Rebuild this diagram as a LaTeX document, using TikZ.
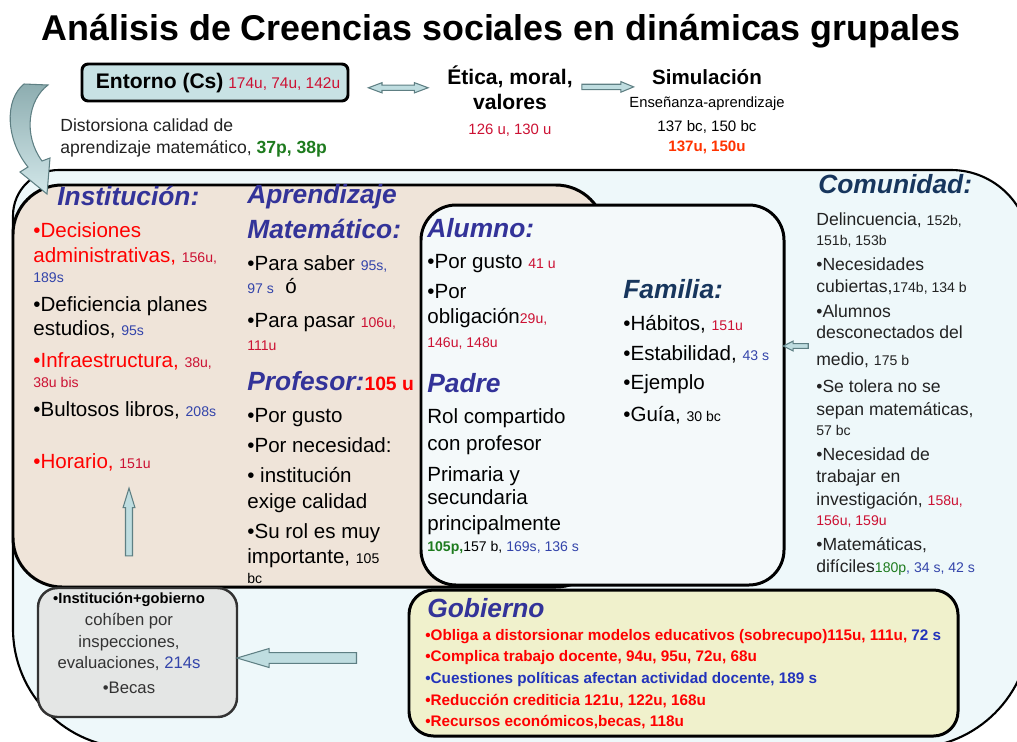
\documentclass[tikz,border=0pt]{standalone}
\usepackage{fontspec}
\setmainfont{Liberation Sans}
\usetikzlibrary{shapes.arrows,fit}

\definecolor{hblue}{HTML}{333399}
\definecolor{navy}{HTML}{17365D}
\definecolor{bred}{HTML}{FF0000}
\definecolor{nred}{HTML}{CC1133}
\definecolor{nblue}{HTML}{3344AA}
\definecolor{gblue}{HTML}{2233BB}
\definecolor{ngreen}{HTML}{1E7B1E}
\definecolor{oran}{HTML}{FF3300}
\definecolor{outerfill}{HTML}{EEF8FA}
\definecolor{beige}{HTML}{EFE4D9}
\definecolor{alufill}{HTML}{F4F9FA}
\definecolor{grisfill}{HTML}{E4E6E5}
\definecolor{gobfill}{HTML}{F0F1CC}
\definecolor{entfill}{HTML}{C8E2E4}
\definecolor{arrfill}{HTML}{BFDDE0}
\definecolor{arrtop}{HTML}{8DADB0}
\definecolor{arrline}{HTML}{5E7F83}
\definecolor{txtgray}{HTML}{222222}

\newcommand\fbody{\fontsize{11.7}{14}\selectfont}
\newcommand\fsmall{\fontsize{8}{10}\selectfont}
\newcommand\fcom{\fontsize{10}{12}\selectfont}
\newcommand\fhead{\fontsize{15}{18}\selectfont\bfseries\itshape}
\newcommand\ru[1]{{\fsmall\color{nred}#1}}
\newcommand\bu[1]{{\fsmall\color{nblue}#1}}

\tikzset{
  txt/.style={anchor=base west, inner sep=0pt, font=\fbody},
  ctxt/.style={anchor=base, inner sep=0pt},
  caja/.style={draw=black, line width=1.7pt, rounded corners=#1, inner sep=0pt},
  blockarr/.style={draw=arrline, fill=arrfill, line width=0.6pt, inner sep=#1},
}

\begin{document}
\begin{tikzpicture}[x=0.02cm, y=-0.02cm]
\useasboundingbox (0,0) rectangle (1017,741);
\clip (0,0) rectangle (1017,741);

% titulo
\node[ctxt, font=\fontsize{20.4}{24}\selectfont\bfseries] (titulo) at (501,40)
  {Análisis de Creencias sociales en dinámicas grupales};

% caja grande (comunidad)
\draw[fill=outerfill, line width=1.2pt] (13,400) [rounded corners=26pt] -- (13,170) -- (600,170)
  [rounded corners=45pt] -- (1030,170) -- (1030,600) [rounded corners=68pt] -- (1030,748)
  -- (500,748) -- (13,748) -- cycle;

% cajas
\node[caja=28pt, fill=beige, fit={(13,185) (605,587)}] (instbox) {};
\node[caja=20pt, fill=alufill, fit={(421,205) (784,585)}] (alumno) {};
\node[caja=11pt, draw=black!80, line width=1.4pt, fill=grisfill, fit={(38,588) (237,717)}] (gris) {};
\node[caja=14pt, fill=gobfill, fit={(409,590) (958,736)}] (gobierno) {};
\node[caja=3.5pt, fill=entfill, fit={(82,64) (348,101)}] (entorno) {};

% flecha curva
\draw[draw=arrline, line width=0.6pt, top color=arrtop, bottom color=arrfill!70!white]
  (24,84) -- (48,85) .. controls (28,100) and (23,135) .. (42,161) -- (50,158) -- (47,194)
  -- (20,172) -- (28,167) .. controls (6,140) and (4,100) .. (24,84) -- cycle;

% arriba
\node[ctxt] (entornotxt) at (218,88) {{\fontsize{12}{14}\selectfont\bfseries Entorno (Cs)}
  {\fontsize{8.8}{10}\selectfont\color{nred}174u, 74u, 142u}};
\node[ctxt, font=\fontsize{12}{14}\selectfont\bfseries] (etica) at (510,84) {Ética, moral,};
\node[ctxt, font=\fontsize{12}{14}\selectfont\bfseries] (valores) at (510,109) {valores};
\node[ctxt, font=\fontsize{8.5}{10}\selectfont, text=nred] (etnum) at (510,134) {126 u, 130 u};
\node[ctxt, font=\fontsize{11.7}{14}\selectfont\bfseries] (simu) at (707,84) {Simulación};
\node[ctxt, font=\fontsize{8.4}{10}\selectfont] (ensen) at (707,107) {Enseñanza-aprendizaje};
\node[ctxt, font=\fontsize{8.6}{10}\selectfont] (simnum) at (707,131) {137 bc, 150 bc};
\node[ctxt, font=\fontsize{8.6}{10}\selectfont\bfseries, text=oran] (simnum2) at (707,151) {137u, 150u};
\node[txt, font=\fcom, text=txtgray] (dist1) at (60,131) {Distorsiona calidad de};
\node[txt, font=\fcom, text=txtgray] (dist2) at (60,153)
  {aprendizaje matemático, {\bfseries\color{ngreen}37p, 38p}};

% flechas
\path ([yshift=-3pt]entorno.east) -- ([yshift=-3pt]entorno.east -| etica.west)
  node[pos=.5, blockarr=1.2pt, double arrow, minimum height=34pt, minimum width=5.4pt,
       double arrow head extend=1.4pt, double arrow tip angle=41] (fl1) {};
\path ([yshift=-2.5pt]entorno.east -| etica.east) -- ([yshift=-2.5pt]entorno.east -| simu.west)
  node[pos=.4, blockarr=1.2pt, single arrow, minimum height=29.5pt, minimum width=5.7pt,
       single arrow head extend=1.5pt, single arrow tip angle=45] (fl2) {};
\coordinate (comw) at (811,346);
\path (comw) -- (comw -| alumno.east)
  node[midway, blockarr=1.1pt, single arrow, shape border rotate=180, minimum height=14.2pt,
       minimum width=5.1pt, single arrow head extend=1.4pt, single arrow tip angle=53] (fl3) {};

% institucion
\node[txt, font=\fhead, text=hblue] (instit) at (57,205) {Institución:};
\foreach \yy/\ltext [count=\i] in {
  237/{\color{bred}•Decisiones},
  262/{{\color{bred}administrativas,} \ru{156u,}},
  282/{\bu{189s}},
  311/{•Deficiencia planes},
  335/{estudios, \bu{95s}},
  367/{{\color{bred}•Infraestructura,} \ru{38u,}},
  387/{\ru{38u bis}},
  416/{•Bultosos libros, \bu{208s}},
  468/{{\color{bred}•Horario,} \ru{151u}}}
  \node[txt] (ins\i) at (33,\yy) {\ltext};

% aprendizaje y profesor
\node[txt, font=\fhead, text=hblue] (aprend) at (247,203) {Aprendizaje};
\node[txt, font=\fhead, text=hblue] (matem) at (247,238) {Matemático:};
\node[txt] (prof) at (247,390) {{\fhead\color{hblue}Profesor:}{\fontsize{11}{13}\selectfont\bfseries\color{bred}105 u}};
\foreach \yy/\ltext [count=\i] in {
  270/{•Para saber \bu{95s,}},
  293/{\bu{97 s}\ \ ó},
  327/{•Para pasar \ru{106u,}},
  350/{\ru{111u}},
  422/{•Por gusto},
  452/{•Por necesidad:},
  482/{• institución},
  508/{exige calidad},
  538/{•Su rol es muy},
  563/{importante, {\fsmall 105}},
  583/{\fsmall bc}}
  \node[txt] (apr\i) at (247,\yy) {\ltext};

% alumno y padre
\node[txt, font=\fhead, text=hblue] (alumnotit) at (427,237) {Alumno:};
\node[txt, font=\fhead, text=hblue] (padre) at (427,392) {Padre};
\foreach \yy/\ltext [count=\i] in {
  268/{•Por gusto \ru{41 u}},
  298/{•Por},
  323/{obligación\ru{29u,}},
  347/{\ru{146u, 148u}},
  423/{Rol compartido},
  450/{con profesor},
  481/{Primaria y},
  504/{secundaria},
  530/{principalmente},
  551/{{\fsmall\bfseries\color{ngreen}105p,}{\fsmall 157 b, }\bu{169s, 136 s}}}
  \node[txt] (alu\i) at (427,\yy) {\ltext};

% familia
\node[txt, font=\fhead, text=navy] (familia) at (623,298) {Familia:};
\foreach \yy/\ltext [count=\i] in {
  330/{•Hábitos, \ru{151u}},
  360/{•Estabilidad, \bu{43 s}},
  389/{•Ejemplo},
  421/{•Guía, {\fsmall 30 bc}}}
  \node[txt] (fam\i) at (623,\yy) {\ltext};

% comunidad
\node[txt, font=\fhead, text=navy] (comunidad) at (818,193) {Comunidad:};
\foreach \yy/\ltext [count=\i] in {
  225/{Delincuencia, {\fsmall 152b,}},
  245/{\fsmall 151b, 153b},
  270/{•Necesidades},
  292/{cubiertas,{\fsmall 174b, 134 b}},
  317/{•Alumnos},
  338/{desconectados del},
  365/{medio, {\fsmall 175 b}},
  392/{•Se tolera no se},
  415/{sepan matemáticas,},
  435/{\fsmall 57 bc},
  460/{•Necesidad de},
  482/{trabajar en},
  505/{investigación, \ru{158u,}},
  525/{\ru{156u, 159u}},
  550/{•Matemáticas,},
  572/{difíciles{\fsmall\color{ngreen}180p}\bu{, 34 s, 42 s}}}
  \node[txt, font=\fcom, text=txtgray] (com\i) at (816,\yy) {\ltext};

% caja gris
\node[ctxt, font=\fontsize{8.4}{10}\selectfont\bfseries] (gris1) at (129,603) {•Institución+gobierno};
\foreach \yy/\ltext [count=\i] in {
  625/{cohíben por},
  647/{inspecciones,},
  668/{evaluaciones, {\color{nblue}214s}},
  693/{•Becas}}
  \node[ctxt, font=\fontsize{9.5}{11}\selectfont, text=black!80] (gr\i) at (129,\yy) {\ltext};

% gobierno
\node[txt, font=\fhead, text=hblue] (gobtit) at (427,617) {Gobierno};
\foreach \yy/\ltext [count=\i] in {
  640/{\color{bred}•Obliga a distorsionar modelos educativos (sobrecupo)115u, 111u, \color{gblue}72 s},
  661/{\color{bred}•Complica trabajo docente, 94u, 95u, 72u, 68u},
  683/{\color{gblue}•Cuestiones políticas afectan actividad docente, 189 s},
  705/{\color{bred}•Reducción crediticia 121u, 122u, 168u},
  726/{\color{bred}•Recursos económicos,becas, 118u}}
  \node[txt, font=\fontsize{8.7}{10}\selectfont\bfseries] (gob\i) at (425,\yy) {\ltext};

% flechas de abajo
\path (gobierno.west |- 0,658) -- (gris.east |- 0,658)
  node[pos=.6, blockarr=2.8pt, single arrow, shape border rotate=180, minimum height=68pt,
       minimum width=10.2pt, single arrow head extend=2.3pt, single arrow tip angle=33] (fl4) {};
\path (gris.north -| 129,0) -- (ins9.south -| 129,0)
  node[pos=.51, blockarr=1.7pt, single arrow, shape border rotate=90, minimum height=38.5pt,
       minimum width=6.2pt, single arrow head extend=1.4pt, single arrow tip angle=34] (fl5) {};
\end{tikzpicture}
\end{document}
